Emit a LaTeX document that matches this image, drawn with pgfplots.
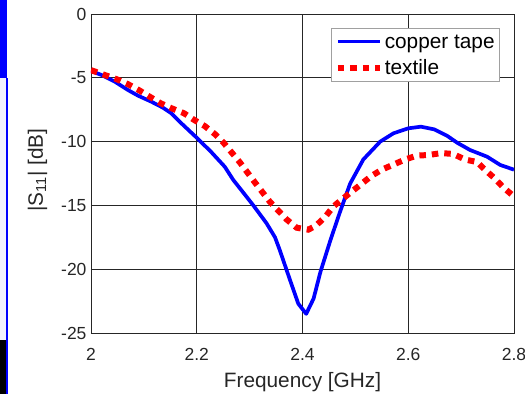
\documentclass[border=0pt]{standalone}
\usepackage{pgfplots}
\pgfplotsset{compat=1.18}
\usepackage{fontspec}
\setmainfont{Liberation Sans}
\definecolor{axisgray}{RGB}{38,38,38}
\definecolor{legendedge}{RGB}{160,160,160}

% measured reflection coefficient, frequency in GHz, |S11| in dB
\pgfplotstableread{
f      s
2.000  -4.47
2.020  -4.78
2.045  -5.30
2.070  -5.96
2.089  -6.40
2.114  -6.87
2.136  -7.34
2.152  -7.78
2.171  -8.57
2.200  -9.70
2.227  -10.80
2.253  -11.97
2.269  -13.00
2.290  -14.10
2.307  -15.00
2.332  -16.40
2.348  -17.50
2.357  -18.50
2.376  -20.80
2.392  -22.70
2.407  -23.50
2.421  -22.30
2.434  -20.20
2.453  -17.70
2.471  -15.50
2.490  -13.30
2.515  -11.40
2.547  -10.00
2.572  -9.35
2.600  -8.96
2.624  -8.83
2.649  -9.04
2.674  -9.56
2.693  -10.10
2.717  -10.66
2.749  -11.18
2.774  -11.83
2.800  -12.20
}\copper

\pgfplotstableread{
f      s
2.000  -4.40
2.026  -4.78
2.048  -5.10
2.070  -5.50
2.090  -5.95
2.111  -6.48
2.132  -7.00
2.153  -7.40
2.176  -7.78
2.195  -8.30
2.215  -8.78
2.234  -9.40
2.250  -10.05
2.282  -11.65
2.310  -13.20
2.338  -14.70
2.370  -16.10
2.389  -16.75
2.411  -16.90
2.425  -16.60
2.443  -15.90
2.458  -15.10
2.477  -14.45
2.512  -13.30
2.530  -12.70
2.550  -12.20
2.594  -11.40
2.616  -11.10
2.638  -11.05
2.663  -10.90
2.685  -10.97
2.707  -11.40
2.730  -11.60
2.745  -12.20
2.764  -12.90
2.780  -13.60
2.800  -14.30
}\textile

\begin{document}
\begin{tikzpicture}
\path[use as bounding box] (0pt,0pt) rectangle (525pt,-394pt);
% window edge strip on the left
\fill[blue] (0pt,0pt) rectangle (7.3pt,-78pt);
\fill[blue!5] (0pt,-78pt) rectangle (5.5pt,-340pt);
\fill[blue] (5.5pt,-78pt) rectangle (8.3pt,-394pt);
\fill[black] (0pt,-340pt) rectangle (5.5pt,-394pt);
\begin{axis}[
  at={(91pt,-333pt)}, anchor=south west,
  scale only axis, width=423pt, height=319pt,
  xmin=2, xmax=2.8, ymin=-25, ymax=0,
  xtick={2,2.2,2.4,2.6,2.8},
  ytick={-25,-20,-15,-10,-5,0},
  grid=major,
  major grid style={draw=axisgray, line width=0.8pt},
  axis line style={draw=axisgray, line width=0.8pt},
  major tick length=0pt,
  /pgf/number format/assume math mode=true,
  tick label style={font=\fontsize{17.5}{20}\selectfont, text=axisgray},
  xticklabel style={yshift=-12pt},
  yticklabel style={xshift=-1pt},
  label style={font=\fontsize{20.8}{24}\selectfont, text=axisgray},
  xlabel={Frequency [GHz]},
  ylabel={|S\textsubscript{11}| [dB]},
  xlabel style={at={(axis description cs:0.5,-0.1693)}, anchor=base},
  ylabel style={at={(axis description cs:-0.1135,0.511)}, anchor=base},
  legend style={at={(0.967,0.957)}, anchor=north east,
    draw=legendedge, line width=0.8pt, fill=white,
    font=\fontsize{20.8}{24}\selectfont,
    inner xsep=3pt, inner ysep=3pt, row sep=6pt,
    cells={anchor=west, text height=15pt, text depth=4.5pt, inner ysep=1.5pt}},
  legend image code/.code={\draw[#1] (0pt,0pt) -- (42pt,0pt);},
]
\addplot[blue, line width=3.7pt, line join=round] table[x=f, y=s] {\copper};
\addlegendentry{copper tape}
\addplot[red, line width=6pt, dash pattern=on 6.5pt off 6pt] table[x=f, y=s] {\textile};
\addlegendentry{textile}
\end{axis}
\end{tikzpicture}
\end{document}
